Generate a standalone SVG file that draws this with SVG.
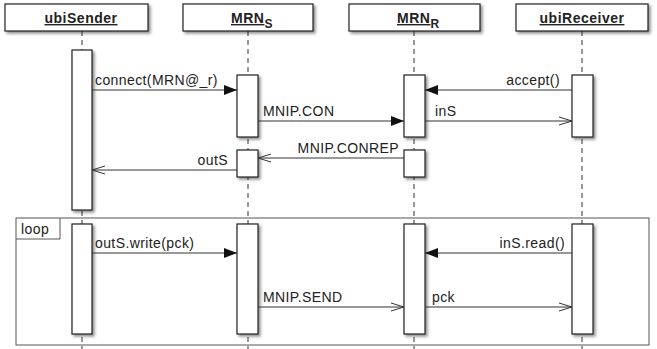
<svg xmlns="http://www.w3.org/2000/svg" width="657" height="349" viewBox="0 0 657 349">
<defs>
<filter id="sh" x="-20%" y="-20%" width="150%" height="150%">
<feDropShadow dx="2" dy="2" stdDeviation="1.5" flood-color="#000" flood-opacity="0.45"/>
</filter>
<marker id="fill" viewBox="0 0 13 10" refX="13" refY="5" markerWidth="13" markerHeight="10" markerUnits="userSpaceOnUse" orient="auto">
<path d="M0,0 L13,5 L0,10 Z" fill="#111"/>
</marker>
<marker id="open" viewBox="0 0 14 10" refX="13" refY="5" markerWidth="14" markerHeight="10" markerUnits="userSpaceOnUse" orient="auto">
<path d="M0,1 L13,5 L0,9" fill="none" stroke="#333" stroke-width="1"/>
</marker>
</defs>
<style>
.hdr{fill:#fff;stroke:#222;stroke-width:1.2;filter:url(#sh)}
.act{fill:#fff;stroke:#222;stroke-width:1.2;filter:url(#sh)}
.life{stroke:#333;stroke-width:1;stroke-dasharray:5,4;fill:none}
.msg{stroke:#333;stroke-width:1;fill:none}
.t{font-family:"Liberation Sans",Arial,sans-serif;font-size:14px;letter-spacing:0.4px;fill:#222}
.h{font-family:"Liberation Sans",Arial,sans-serif;font-size:14px;font-weight:bold;letter-spacing:0.5px;fill:#222}
.frame{fill:none;stroke:#555;stroke-width:1}
</style>
<rect width="657" height="349" fill="#fff"/>

<g id="lifelines">
<line class="life" x1="82" y1="31" x2="82" y2="349"/>
<line class="life" x1="248" y1="31" x2="248" y2="349"/>
<line class="life" x1="414" y1="31" x2="414" y2="349"/>
<line class="life" x1="582" y1="31" x2="582" y2="349"/>
</g>

<g id="loop">
<rect class="frame" x="16" y="218" width="633" height="127"/>
<path class="frame" d="M16,239 H60 V218"/>
<text class="t" x="21" y="234">loop</text>
</g>

<g id="ubiSender">
<rect class="hdr" x="5" y="4" width="143" height="27"/>
<text class="h" x="81" y="23" text-anchor="middle" text-decoration="underline">ubiSender</text>
<rect class="act" x="72" y="50" width="20" height="160"/>
<rect class="act" x="72" y="224" width="20" height="110"/>
</g>

<g id="MRNS">
<rect class="hdr" x="183" y="4" width="130" height="27"/>
<text class="h" x="231" y="23"><tspan text-decoration="underline">MRN</tspan><tspan dy="5" font-size="12">S</tspan></text>
<rect class="act" x="237" y="75" width="21" height="62"/>
<rect class="act" x="237" y="150" width="21" height="27"/>
<rect class="act" x="237" y="224" width="21" height="110"/>
</g>

<g id="MRNR">
<rect class="hdr" x="349" y="4" width="131" height="27"/>
<text class="h" x="397" y="23"><tspan text-decoration="underline">MRN</tspan><tspan dy="5" font-size="12">R</tspan></text>
<rect class="act" x="404" y="75" width="21" height="62"/>
<rect class="act" x="404" y="150" width="21" height="27"/>
<rect class="act" x="404" y="224" width="21" height="110"/>
</g>

<g id="ubiReceiver">
<rect class="hdr" x="516" y="4" width="132" height="27"/>
<text class="h" x="582" y="23" text-anchor="middle" text-decoration="underline">ubiReceiver</text>
<rect class="act" x="572" y="75" width="21" height="62"/>
<rect class="act" x="572" y="224" width="21" height="110"/>
</g>

<g id="connectors">
<line class="msg" x1="92" y1="90" x2="237" y2="90" marker-end="url(#fill)"/>
<text class="t" x="95" y="85">connect(MRN@_r)</text>
<line class="msg" x1="258" y1="121" x2="404" y2="121" marker-end="url(#fill)"/>
<text class="t" x="263" y="116">MNIP.CON</text>
<line class="msg" x1="572" y1="90" x2="425" y2="90" marker-end="url(#fill)"/>
<text class="t" x="560" y="85" text-anchor="end">accept()</text>
<line class="msg" x1="425" y1="121" x2="572" y2="121" marker-end="url(#open)"/>
<text class="t" x="435" y="116">inS</text>
<line class="msg" x1="404" y1="158" x2="258" y2="158" marker-end="url(#open)"/>
<text class="t" x="399" y="153" text-anchor="end">MNIP.CONREP</text>
<line class="msg" x1="237" y1="170" x2="92" y2="170" marker-end="url(#open)"/>
<text class="t" x="228" y="165" text-anchor="end">outS</text>
<line class="msg" x1="92" y1="253" x2="237" y2="253" marker-end="url(#fill)"/>
<text class="t" x="95" y="248">outS.write(pck)</text>
<line class="msg" x1="572" y1="253" x2="425" y2="253" marker-end="url(#fill)"/>
<text class="t" x="565" y="248" text-anchor="end">inS.read()</text>
<line class="msg" x1="258" y1="307" x2="404" y2="307" marker-end="url(#open)"/>
<text class="t" x="263" y="302">MNIP.SEND</text>
<line class="msg" x1="425" y1="307" x2="572" y2="307" marker-end="url(#open)"/>
<text class="t" x="432" y="302">pck</text>
</g>
</svg>
